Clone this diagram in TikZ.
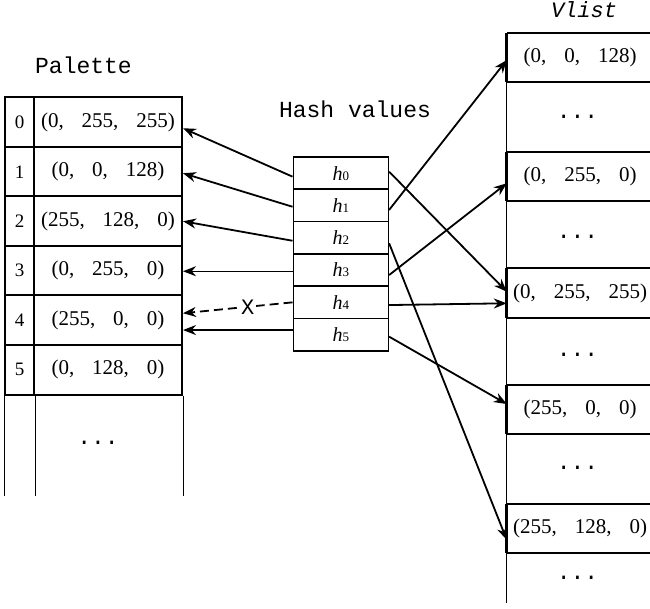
\documentclass[tikz,border=0pt]{standalone}
\usepackage{fontspec}
\setmainfont{Liberation Serif}
\newfontfamily\monof{Liberation Mono}
\usetikzlibrary{arrows.meta}
\newcommand{\trip}[3]{(#1,\hspace{18pt}#2,\hspace{18pt}#3)}
\newcommand{\hl}[1]{{\fontsize{20}{22}\selectfont\itshape h}{\fontsize{13}{15}\selectfont #1}}
\begin{document}
\begin{tikzpicture}[x=1pt,y=-1pt,
  valfont/.style={font=\fontsize{21}{24}\selectfont},
  pidx/.style={draw,line width=2pt,minimum width=29pt,minimum height=49.5pt,inner sep=0pt,font=\fontsize{19}{22}\selectfont},
  pval/.style={draw,line width=2pt,minimum width=148pt,minimum height=49.5pt,inner sep=0pt,valfont},
  hcell/.style={draw,line width=1.6pt,minimum width=95pt,minimum height=32.3pt,inner sep=0pt},
  vcell/.style={minimum width=146pt,minimum height=49pt,inner sep=0pt,valfont},
  title/.style={font=\monof\fontsize{23}{26}\selectfont,anchor=base,inner sep=0pt},
  dots/.style={font=\monof\fontsize{23}{26}\selectfont,anchor=base,inner sep=0pt},
  arr/.style={-{Stealth[length=13pt,width=10pt]},line width=1.8pt},
  arrthin/.style={-{Stealth[length=13pt,width=10pt]},line width=1.3pt},
  thinl/.style={line width=1pt},
  hline/.style={line width=2pt},
  vthick/.style={line width=3pt},
]
\useasboundingbox (0,0) rectangle (650,609);

% titles
\node[title] (tpal) at (83.5,73.5) {Palette};
\node[title] (thash) at (355,117.3) {Hash values};
\node[title,font=\monof\itshape\fontsize{22}{26}\selectfont] (tvl) at (584,18) {Vlist};

% palette
\node[pidx] (i0) at (19.5,122.25) {0};
\node[pidx] (i1) at (19.5,171.75) {1};
\node[pidx] (i2) at (19.5,221.25) {2};
\node[pidx] (i3) at (19.5,270.75) {3};
\node[pidx] (i4) at (19.5,320.25) {4};
\node[pidx] (i5) at (19.5,369.75) {5};
\node[pval] (p0) at (108,122.25) {\trip{0}{255}{255}};
\node[pval] (p1) at (108,171.75) {\trip{0}{0}{128}};
\node[pval] (p2) at (108,221.25) {\trip{255}{128}{0}};
\node[pval] (p3) at (108,270.75) {\trip{0}{255}{0}};
\node[pval] (p4) at (108,320.25) {\trip{255}{0}{0}};
\node[pval] (p5) at (108,369.75) {\trip{0}{128}{0}};
\draw[thinl] (i5.south west) -- ++(0,100);
\draw[thinl] (i5.south east) -- ++(0,100);
\draw[thinl] (p5.south east) -- ++(0,100);
\node[dots] (pd) at (98,444.8) {...};

% hash values
\node[hcell] (h0) at (340.8,173.15) {\hl{0}};
\node[hcell] (h1) at (340.8,205.45) {\hl{1}};
\node[hcell] (h2) at (340.8,237.75) {\hl{2}};
\node[hcell] (h3) at (340.8,270.05) {\hl{3}};
\node[hcell] (h4) at (340.8,302.35) {\hl{4}};
\node[hcell] (h5) at (340.8,334.65) {\hl{5}};

% Vlist
\node[vcell] (v1) at (580,57.5) {\trip{0}{0}{128}};
\node[vcell] (v2) at (580,176.7) {\trip{0}{255}{0}};
\node[vcell] (v3) at (580,293) {\trip{0}{255}{255}};
\node[vcell] (v4) at (580,409.65) {\trip{255}{0}{0}};
\node[vcell] (v5) at (580,528.65) {\trip{255}{128}{0}};
\draw[thinl] (v1.north west) -- ([yshift=-50pt]v5.south west);
\foreach \v in {v1,v2,v3,v4,v5}{
  \draw[hline] (\v.north west) -- ++(145,0);
  \draw[hline] (\v.south west) -- ++(145,0);
  \draw[vthick] (\v.north west) -- (\v.south west);
}
\node[dots] (vd1) at (577.5,118.2) {...};
\node[dots] (vd2) at (577.5,238.2) {...};
\node[dots] (vd3) at (577.5,356.5) {...};
\node[dots] (vd4) at (577.5,469.8) {...};
\node[dots] (vd5) at (577.5,579.8) {...};

% left arrows
\draw[arr] ([yshift=-3.5pt]h0.west) -- ([yshift=-6pt]p0.east);
\draw[arr] ([yshift=-1.3pt]h1.west) -- ([yshift=-1.5pt]p1.east);
\draw[arr] ([yshift=-3pt]h2.west) -- (p2.east);
\coordinate (s3) at ([yshift=-1.2pt]h3.west);
\draw[arrthin] (s3) -- (s3 -| p3.east);
\draw[arr,dash pattern=on 9pt off 5pt] (h4.west) -- node[pos=0.41,fill=white,inner sep=1.5pt,font=\monof\fontsize{22}{24}\selectfont] (xl) {X} ([yshift=7pt]p4.east);
\coordinate (s5) at ([yshift=4.6pt]h5.west);
\draw[arrthin] (s5) -- (s5 -| p4.east);

% right arrows
\draw[arr] ([yshift=1.5pt]h0.east) -- ([yshift=1.3pt]v3.west);
\draw[arr] ([yshift=-4.5pt]h1.east) -- ([yshift=-2.5pt]v1.west);
\draw[arr] ([yshift=-5.5pt]h2.east) -- ([yshift=-11.3pt]v5.west);
\draw[arr] ([yshift=-5pt]h3.east) -- ([yshift=-6.6pt]v2.west);
\draw[arr] ([yshift=-2.7pt]h4.east) -- ([yshift=-10.3pt]v3.west);
\draw[arr] ([yshift=-2pt]h5.east) -- ([yshift=5.6pt]v4.west);
\end{tikzpicture}
\end{document}
